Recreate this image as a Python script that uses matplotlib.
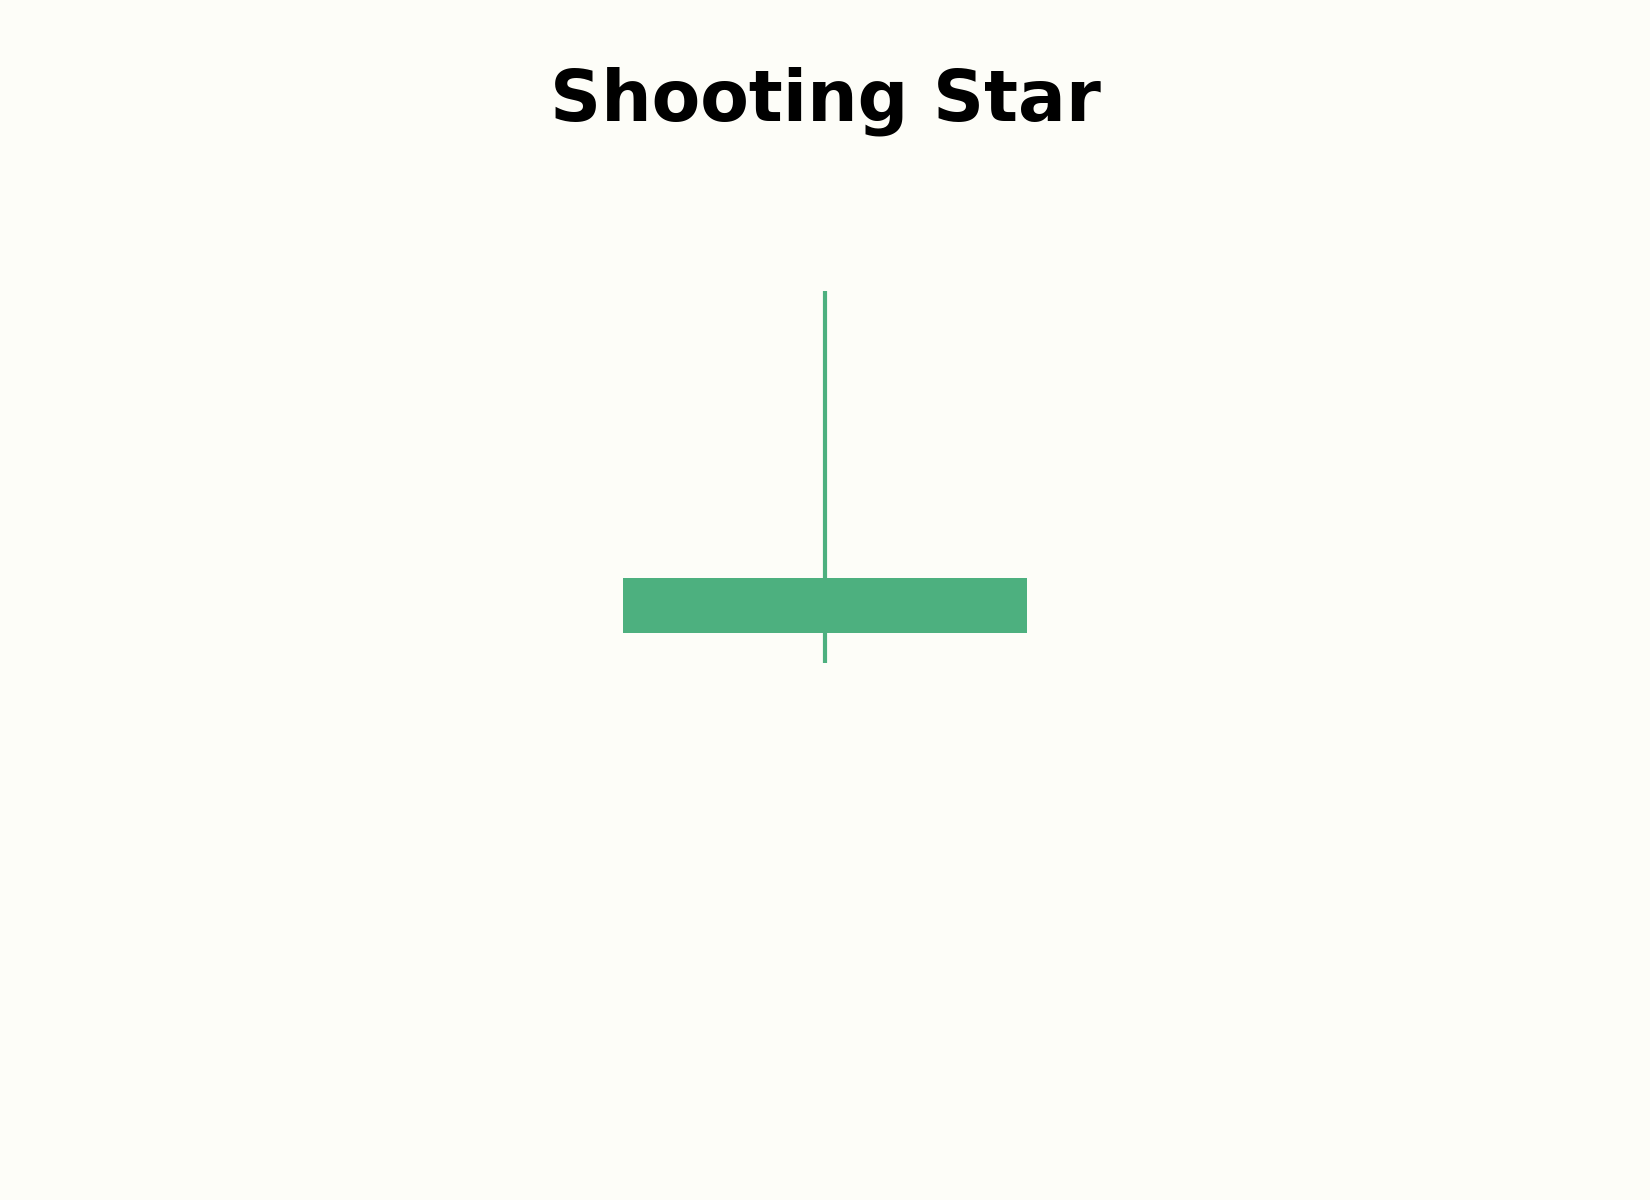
import matplotlib
matplotlib.use("Agg")
import matplotlib.pyplot as plt
from matplotlib.patches import Rectangle

# Data
labels = ["Shooting Star"]
opens = [100.0]
closes = [101.0]
highs = [106.22]
lows = [99.45]

BG = "#FDFDF8"
GREEN = "#4DB07F"

fig = plt.figure(figsize=(16.5, 12), dpi=100, facecolor=BG)
ax = fig.add_axes([0, 0, 1, 1])
ax.set_facecolor(BG)

body_w = 0.6
for i, (o, c, h, l) in enumerate(zip(opens, closes, highs, lows)):
    ax.vlines(i, l, h, color=GREEN, linewidth=3, zorder=1)
    ax.add_patch(Rectangle((i - body_w / 2, min(o, c)), body_w, abs(c - o),
                           facecolor=GREEN, edgecolor="none", zorder=2))

ax.set_xlim(-1.226, 1.226)
ax.set_ylim(89.69, 111.51)
ax.axis("off")

fig.text(0.5, 0.9, labels[0], ha="center", va="baseline",
         fontsize=51, fontweight="bold", family="DejaVu Sans", color="black")

fig.savefig("out.png", dpi=100, facecolor=BG)
